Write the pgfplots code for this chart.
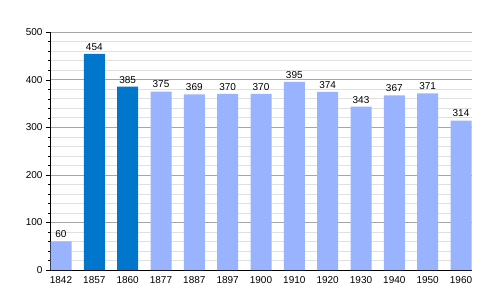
\documentclass[border=0pt]{standalone}
\usepackage{pgfplots}
\pgfplotsset{compat=1.18}
\usepackage{fontspec}
\setmainfont{Liberation Sans}
\definecolor{lightbar}{HTML}{99B3FF}
\definecolor{darkbar}{HTML}{0077CC}
\begin{document}
\begin{tikzpicture}
\path[use as bounding box] (0,0) rectangle (500pt,300pt);
\begin{axis}[
  at={(50pt,30pt)}, anchor=south west,
  scale only axis, width=422pt, height=238pt,
  xmin=-0.33, xmax=12.33, ymin=0, ymax=500,
  axis x line*=bottom, axis y line*=left,
  xtick={0,1,...,12},
  xticklabels={1842,1857,1860,1877,1887,1897,1900,1910,1920,1930,1940,1950,1960},
  x tick style={draw=none},
  xticklabel style={yshift=1pt},
  ytick={0,100,...,500},
  minor y tick num=4,
  tick align=outside,
  major tick length=4pt, minor tick length=2pt,
  y tick style={black},
  ymajorgrids, yminorgrids,
  major grid style={draw=black!35},
  minor grid style={draw=black!12},
  tick label style={font=\fontsize{10}{11}\selectfont},
  /pgf/number format/assume math mode=true,
  axis line style={black},
  ybar, bar width=0.63, bar shift=0pt,
  nodes near coords,
  every node near coord/.append style={font=\fontsize{10}{11}\selectfont, black},
  enlarge x limits=false,
  clip=false,
]
\addplot[fill=lightbar, draw=none] coordinates {(0,60) (3,375) (4,369) (5,370) (6,370) (7,395) (8,374) (9,343) (10,367) (11,371) (12,314)};
\addplot[fill=darkbar, draw=none] coordinates {(1,454) (2,385)};
\end{axis}
\end{tikzpicture}
\end{document}
